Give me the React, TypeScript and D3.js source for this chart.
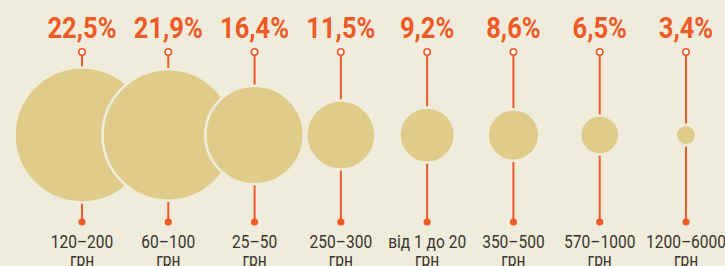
import * as d3 from 'd3';
import React, { useEffect, useRef } from 'react';

const categories: string[] = [
  '120–200',
  '60–100',
  '25–50',
  '250–300',
  'від 1 до 20',
  '350–500',
  '570–1000',
  '1200–6000',
];
const shares: number[] = [22.5, 21.9, 16.4, 11.5, 9.2, 8.6, 6.5, 3.4];
const unitLabel = 'грн';

const width = 725;
const height = 266;
const bg = '#f0ecdb';
const orange = '#ee5a27';
const bubble = '#dfcc8a';
const textDark = '#3a3530';
const font = "Roboto, 'Noto Sans', sans-serif";

const locale = d3.formatLocale({ decimal: ',', thousands: ' ', grouping: [3], currency: ['', ''] });
const fmt = locale.format('.1f');

const App: React.FC = () => {
  const ref = useRef<SVGSVGElement>(null);
  useEffect(() => {
    const svg = d3.select(ref.current);
    svg.selectAll('*').remove();

    const x = d3
      .scalePoint<string>()
      .domain(categories)
      .range([82, 686]);
    const r = d3.scaleLinear().domain([0, 22.5]).range([0, 67.5]);
    const cy = 135;
    const topY = 52;
    const bottomY = 222;

    svg.append('rect').attr('width', width).attr('height', height).attr('fill', bg);

    const items = categories.map((c, i) => ({ cat: c, value: shares[i] }));

    // stems behind the bubbles
    svg
      .append('g')
      .selectAll('line')
      .data(items)
      .join('line')
      .attr('x1', (d) => x(d.cat) || 0)
      .attr('x2', (d) => x(d.cat) || 0)
      .attr('y1', topY)
      .attr('y2', bottomY)
      .attr('stroke', orange)
      .attr('stroke-width', 2);

    svg
      .append('g')
      .selectAll('circle')
      .data(items)
      .join('circle')
      .attr('cx', (d) => x(d.cat) || 0)
      .attr('cy', cy)
      .attr('r', (d) => r(d.value))
      .attr('fill', bubble)
      .attr('stroke', bg)
      .attr('stroke-width', 2.5);

    svg
      .append('g')
      .selectAll('circle')
      .data(items)
      .join('circle')
      .attr('cx', (d) => x(d.cat) || 0)
      .attr('cy', topY)
      .attr('r', 3.2)
      .attr('fill', '#fff')
      .attr('stroke', orange)
      .attr('stroke-width', 1.6);

    svg
      .append('g')
      .selectAll('circle')
      .data(items)
      .join('circle')
      .attr('cx', (d) => x(d.cat) || 0)
      .attr('cy', bottomY)
      .attr('r', 3.6)
      .attr('fill', orange);

    // condensed look: squeeze glyphs horizontally
    svg
      .append('g')
      .selectAll('text')
      .data(items)
      .join('text')
      .attr('transform', (d) => `translate(${x(d.cat) || 0},37.5) scale(0.88,1)`)
      .attr('text-anchor', 'middle')
      .attr('font-family', font)
      .attr('font-weight', 'bold')
      .attr('font-size', 29)
      .attr('fill', orange)
      .text((d) => fmt(d.value) + '%');

    const labels = svg
      .append('g')
      .selectAll('g')
      .data(items)
      .join('g')
      .attr('transform', (d) => `translate(${x(d.cat) || 0},0) scale(0.84,1)`)
      .attr('text-anchor', 'middle')
      .attr('font-family', font)
      .attr('font-size', 18.5)
      .attr('fill', textDark);
    labels
      .append('text')
      .attr('y', 248)
      .text((d) => d.cat);
    labels
      .append('text')
      .attr('y', 266)
      .text(unitLabel);
  }, []);
  return (
    <div className="bubble-shares">
      <svg ref={ref} width={width} height={height} style={{ position: 'absolute', left: 0, top: 0 }}></svg>
    </div>
  );
};

export default App;
